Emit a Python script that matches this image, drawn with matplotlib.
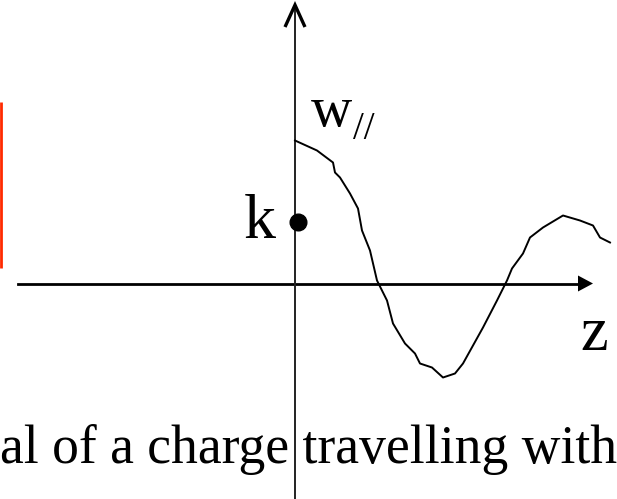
import numpy as np
import matplotlib
matplotlib.use('Agg')
import matplotlib.pyplot as plt

# sketch of longitudinal wake w// behind a charge (hand traced values)
z_vals = [0.00, 0.22, 0.38, 0.40, 0.45, 0.55, 0.63, 0.67, 0.75, 0.82, 0.92,
          0.98, 1.10, 1.20, 1.25, 1.37, 1.48, 1.60, 1.68, 1.88, 2.02, 2.12,
          2.17, 2.28, 2.35, 2.48, 2.68, 2.85, 2.98, 3.05, 3.15]
w_vals = [1.43, 1.33, 1.21, 1.11, 1.06, 0.90, 0.75, 0.53, 0.33, 0.03, -0.17,
          -0.40, -0.60, -0.70, -0.80, -0.84, -0.94, -0.90, -0.80, -0.44, -0.17, 0.03,
          0.15, 0.30, 0.46, 0.56, 0.68, 0.63, 0.58, 0.46, 0.41]
k_point = (0.03, 0.62)

# origin of the sketch in pixels, 100 px per unit
ox, oy = 295, 283.5
def px(x, y):
    return (x - ox) / 100.0, (oy - y) / 100.0

fig = plt.figure(figsize=(6.17, 4.99), dpi=100)
ax = fig.add_axes([0, 0, 1, 1])
ax.set_xlim(px(0, 0)[0], px(617, 0)[0])
ax.set_ylim(px(0, 499)[1], px(0, 0)[1])
ax.axis('off')

serif = 'Liberation Serif'

# axes of the sketch
ax.plot([px(0, 0)[0] + 0.18, px(578, 0)[0]], [0, 0], color='black', lw=2.0)
ax.fill([px(578, 0)[0], px(593, 0)[0], px(578, 0)[0]],
        [0.08, 0, -0.08], color='black', lw=0)
ax.plot([0, 0], [px(0, 499)[1], px(0, 6)[1]], color='#222222', lw=1.4)
ax.plot([-0.10, 0, 0.10], [px(0, 27)[1], px(0, 5)[1], px(0, 27)[1]],
        color='black', lw=2.4, solid_joinstyle='miter', solid_capstyle='butt')

# wake curve
ax.plot(z_vals, w_vals, color='black', lw=1.4)
ax.plot(*k_point, 'o', color='black', ms=12)

# labels
ax.text(*px(244, 238), 'k', fontsize=46, family=serif, ha='left', va='baseline')
ax.text(*px(311, 126), 'w', fontsize=41, family=serif, ha='left', va='baseline')
ax.text(*px(353, 139), '//', fontsize=28, family=serif, ha='left', va='baseline')
ax.text(*px(580, 350), 'z', fontsize=45, family=serif, ha='left', va='baseline')
ax.text(*px(0, 463), 'al of a charge travelling with', fontsize=38.6,
        family=serif, ha='left', va='baseline')

# red bar at left edge
ax.plot([px(1.3, 0)[0]] * 2, [px(0, 102)[1], px(0, 268)[1]],
        color='#ff2a00', lw=2.0, solid_capstyle='butt')

fig.savefig('out.png', dpi=100)
